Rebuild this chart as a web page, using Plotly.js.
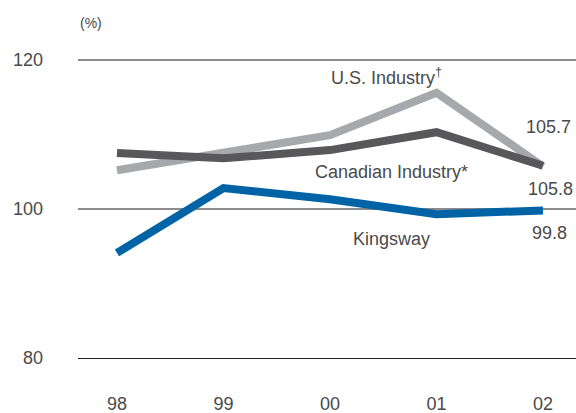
<!DOCTYPE html>
<html>
<head>
<meta charset="utf-8">
<script src="https://cdn.plot.ly/plotly-3.0.1.min.js"></script>
<style>html,body{margin:0;padding:0;background:#fff;}#chart{width:576px;height:413px;}</style>
</head>
<body>
<div id="chart"></div>
<script>
const years = ["98", "99", "00", "01", "02"];
const usIndustry = [105.2, 107.5, 109.9, 115.6, 105.7];
const canadianIndustry = [107.5, 106.8, 107.9, 110.3, 105.8];
const kingsway = [94.1, 102.8, 101.3, 99.3, 99.8];

const textColor = "#4a4a4a";
const font = {family: "Liberation Sans, Arial, sans-serif", size: 18, color: textColor};

const traces = [
  {x: years, y: usIndustry, type: "scatter", mode: "lines", line: {color: "#a6a8ab", width: 8}, name: "U.S. Industry"},
  {x: years, y: canadianIndustry, type: "scatter", mode: "lines", line: {color: "#58585b", width: 8}, name: "Canadian Industry"},
  {x: years, y: kingsway, type: "scatter", mode: "lines", line: {color: "#0063a5", width: 8}, name: "Kingsway"}
];

function ann(text, x, y) {
  return {text: text, x: x, y: y, xref: "x", yref: "y", showarrow: false, xanchor: "center", yanchor: "middle", font: font};
}

const layout = {
  width: 576, height: 413,
  margin: {l: 78, r: 0, t: 45, b: 55},
  paper_bgcolor: "#fff", plot_bgcolor: "#fff",
  showlegend: false,
  font: font,
  xaxis: {
    type: "category", range: [-0.366, 4.31],
    showgrid: false, zeroline: false,
    showline: true, linecolor: "#222", linewidth: 1.3,
    ticks: "", ticklabelstandoff: 29,
    tickfont: font, fixedrange: true
  },
  yaxis: {
    range: [80, 122], tickvals: [80, 100, 120],
    showgrid: true, gridcolor: "#8c8c8c", gridwidth: 1.3,
    zeroline: false, showline: false,
    ticks: "", ticklabelstandoff: 34,
    tickfont: font, fixedrange: true
  },
  annotations: [
    {text: "(%)", xref: "paper", yref: "paper", x: 0, y: 1.07, xanchor: "left", yanchor: "middle", showarrow: false, font: {family: font.family, size: 14, color: textColor}},
    ann("U.S. Industry<sup>†</sup>", 2.53, 117.8),
    ann("Canadian Industry*", 2.58, 105.0),
    ann("Kingsway", 2.58, 96.0),
    ann("105.7", 4.05, 111.0),
    ann("105.8", 4.07, 102.7),
    ann("99.8", 4.06, 96.8)
  ]
};

Plotly.newPlot("chart", traces, layout, {displayModeBar: false, staticPlot: true});
</script>
</body>
</html>
